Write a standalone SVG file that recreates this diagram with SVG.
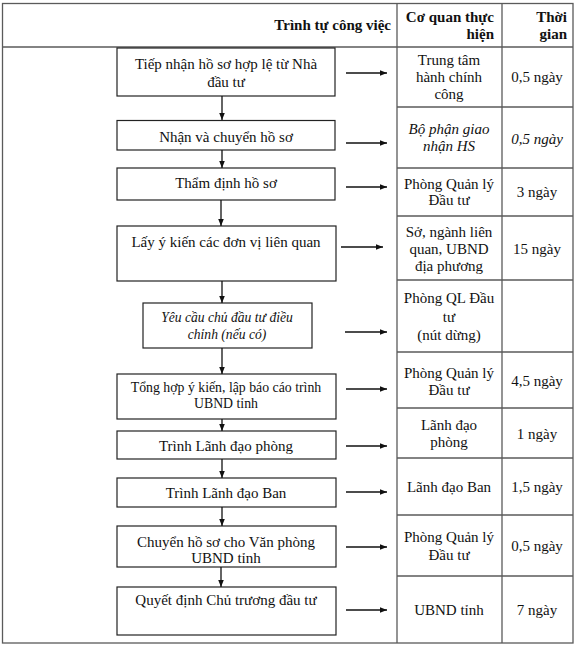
<svg xmlns="http://www.w3.org/2000/svg" width="575" height="648" viewBox="0 0 575 648">
<style>
text{font-family:"Liberation Serif","Times New Roman",serif;font-size:15px;fill:#111}
.h{font-weight:bold;font-size:15px;text-anchor:end}
.c{text-anchor:middle}
.i{font-style:italic}
.grid{stroke:#5a5a5a;stroke-width:1.3;fill:none}
.box{fill:#fff;stroke:#222;stroke-width:1.2}
.con{stroke:#111;stroke-width:1.3;fill:none}
</style>
<defs>
<marker id="ah" viewBox="0 0 10 10" refX="10" refY="5" markerWidth="7" markerHeight="7" markerUnits="userSpaceOnUse" orient="auto">
<path d="M0,1 L10,5 L0,9 z" fill="#111"/>
</marker>
</defs>
<rect width="575" height="648" fill="#fff"/>
<g id="table">
<rect class="grid" x="2.5" y="3.5" width="570.5" height="639.5"/>
<line class="grid" x1="2.5" y1="47" x2="573" y2="47"/>
<line class="grid" x1="397" y1="3.5" x2="397" y2="643"/>
<line class="grid" x1="502" y1="3.5" x2="502" y2="643"/>
<g class="grid">
<line x1="397" y1="107" x2="573" y2="107"/>
<line x1="397" y1="168" x2="573" y2="168"/>
<line x1="397" y1="216" x2="573" y2="216"/>
<line x1="397" y1="280" x2="573" y2="280"/>
<line x1="397" y1="352" x2="573" y2="352"/>
<line x1="397" y1="408" x2="573" y2="408"/>
<line x1="397" y1="458" x2="573" y2="458"/>
<line x1="397" y1="515" x2="573" y2="515"/>
<line x1="397" y1="576" x2="573" y2="576"/>
</g>
<text class="h" x="391" y="30">Trình tự công việc</text>
<text class="h" x="494" y="22">Cơ quan thực</text>
<text class="h" x="494" y="39">hiện</text>
<text class="h" x="567" y="22">Thời</text>
<text class="h" x="567" y="39">gian</text>
</g>
<g id="agencies">
<text class="c" x="449" y="65">Trung tâm</text>
<text class="c" x="449" y="82">hành chính</text>
<text class="c" x="449" y="99">công</text>
<text class="c i" x="449" y="134">Bộ phận giao</text>
<text class="c i" x="449" y="151">nhận HS</text>
<text class="c" x="449" y="189">Phòng Quản lý</text>
<text class="c" x="449" y="205">Đầu tư</text>
<text class="c" x="449" y="237">Sở, ngành liên</text>
<text class="c" x="449" y="254">quan, UBND</text>
<text class="c" x="449" y="271">địa phương</text>
<text class="c" x="449" y="303">Phòng QL Đầu</text>
<text class="c" x="449" y="322">tư</text>
<text class="c" x="449" y="340">(nút dừng)</text>
<text class="c" x="449" y="378">Phòng Quản lý</text>
<text class="c" x="449" y="395">Đầu tư</text>
<text class="c" x="449" y="430">Lãnh đạo</text>
<text class="c" x="449" y="447">phòng</text>
<text class="c" x="449" y="492">Lãnh đạo Ban</text>
<text class="c" x="449" y="542">Phòng Quản lý</text>
<text class="c" x="449" y="560">Đầu tư</text>
<text class="c" x="449" y="615">UBND tỉnh</text>
</g>
<g id="times">
<text class="c" x="537" y="82">0,5 ngày</text>
<text class="c i" x="537" y="144">0,5 ngày</text>
<text class="c" x="537" y="197">3 ngày</text>
<text class="c" x="537" y="254">15 ngày</text>
<text class="c" x="537" y="386">4,5 ngày</text>
<text class="c" x="537" y="439">1 ngày</text>
<text class="c" x="537" y="492">1,5 ngày</text>
<text class="c" x="537" y="551">0,5 ngày</text>
<text class="c" x="537" y="615">7 ngày</text>
</g>
<g id="n1"><rect class="box" x="117" y="48" width="218" height="48"/>
<text class="c" x="226" y="69">Tiếp nhận hồ sơ hợp lệ từ Nhà</text>
<text class="c" x="226" y="87">đầu tư</text></g>
<g id="n2"><rect class="box" x="117" y="120.5" width="218" height="29.5"/>
<text class="c" x="226" y="142">Nhận và chuyển hồ sơ</text></g>
<g id="n3"><rect class="box" x="117" y="168" width="218" height="32"/>
<text class="c" x="226" y="188">Thẩm định hồ sơ</text></g>
<g id="n4"><rect class="box" x="117" y="226" width="219" height="55"/>
<text class="c" x="226" y="247">Lấy ý kiến các đơn vị liên quan</text></g>
<g id="n5"><rect class="box" x="143" y="303" width="169" height="45"/>
<text class="c i" x="227" y="322" style="font-size:13.6px">Yêu cầu chủ đầu tư điều</text>
<text class="c i" x="227" y="339" style="font-size:13.6px">chỉnh (nếu có)</text></g>
<g id="n6"><rect class="box" x="117" y="374" width="219" height="45"/>
<text class="c" x="226" y="392" style="font-size:13.8px">Tổng hợp ý kiến, lập báo cáo trình</text>
<text class="c" x="226" y="408" style="font-size:13.8px">UBND tỉnh</text></g>
<g id="n7"><rect class="box" x="117" y="431" width="219" height="28"/>
<text class="c" x="226" y="451">Trình Lãnh đạo phòng</text></g>
<g id="n8"><rect class="box" x="117" y="478" width="219" height="29"/>
<text class="c" x="226" y="498">Trình Lãnh đạo Ban</text></g>
<g id="n9"><rect class="box" x="117" y="526" width="219" height="41"/>
<text class="c" x="226" y="547">Chuyển hồ sơ cho Văn phòng</text>
<text class="c" x="226" y="563">UBND tỉnh</text></g>
<g id="n10"><rect class="box" x="117" y="587" width="219" height="48"/>
<text class="c" x="226" y="605">Quyết định Chủ trương đầu tư</text></g>
<g id="connectors">
<line class="con" x1="222" y1="96" x2="222" y2="120" marker-end="url(#ah)"/>
<line class="con" x1="222" y1="150" x2="222" y2="168" marker-end="url(#ah)"/>
<line class="con" x1="221" y1="200" x2="221" y2="226" marker-end="url(#ah)"/>
<line class="con" x1="222" y1="281" x2="222" y2="303" marker-end="url(#ah)"/>
<line class="con" x1="222" y1="348" x2="222" y2="374" marker-end="url(#ah)"/>
<line class="con" x1="222" y1="419" x2="222" y2="431" marker-end="url(#ah)"/>
<line class="con" x1="222" y1="459" x2="222" y2="478" marker-end="url(#ah)"/>
<line class="con" x1="222" y1="507" x2="222" y2="526" marker-end="url(#ah)"/>
<line class="con" x1="221" y1="567" x2="221" y2="587" marker-end="url(#ah)"/>
<line class="con" x1="346" y1="73" x2="387" y2="73" marker-end="url(#ah)"/>
<line class="con" x1="346" y1="143" x2="387" y2="143" marker-end="url(#ah)"/>
<line class="con" x1="346" y1="187" x2="387" y2="187" marker-end="url(#ah)"/>
<line class="con" x1="341" y1="247" x2="383" y2="247" marker-end="url(#ah)"/>
<line class="con" x1="345" y1="332" x2="387" y2="332" marker-end="url(#ah)"/>
<line class="con" x1="346" y1="389" x2="387" y2="389" marker-end="url(#ah)"/>
<line class="con" x1="346" y1="446" x2="387" y2="446" marker-end="url(#ah)"/>
<line class="con" x1="346" y1="492" x2="387" y2="492" marker-end="url(#ah)"/>
<line class="con" x1="346" y1="547" x2="387" y2="547" marker-end="url(#ah)"/>
<line class="con" x1="346" y1="610" x2="387" y2="610" marker-end="url(#ah)"/>
</g>
</svg>
